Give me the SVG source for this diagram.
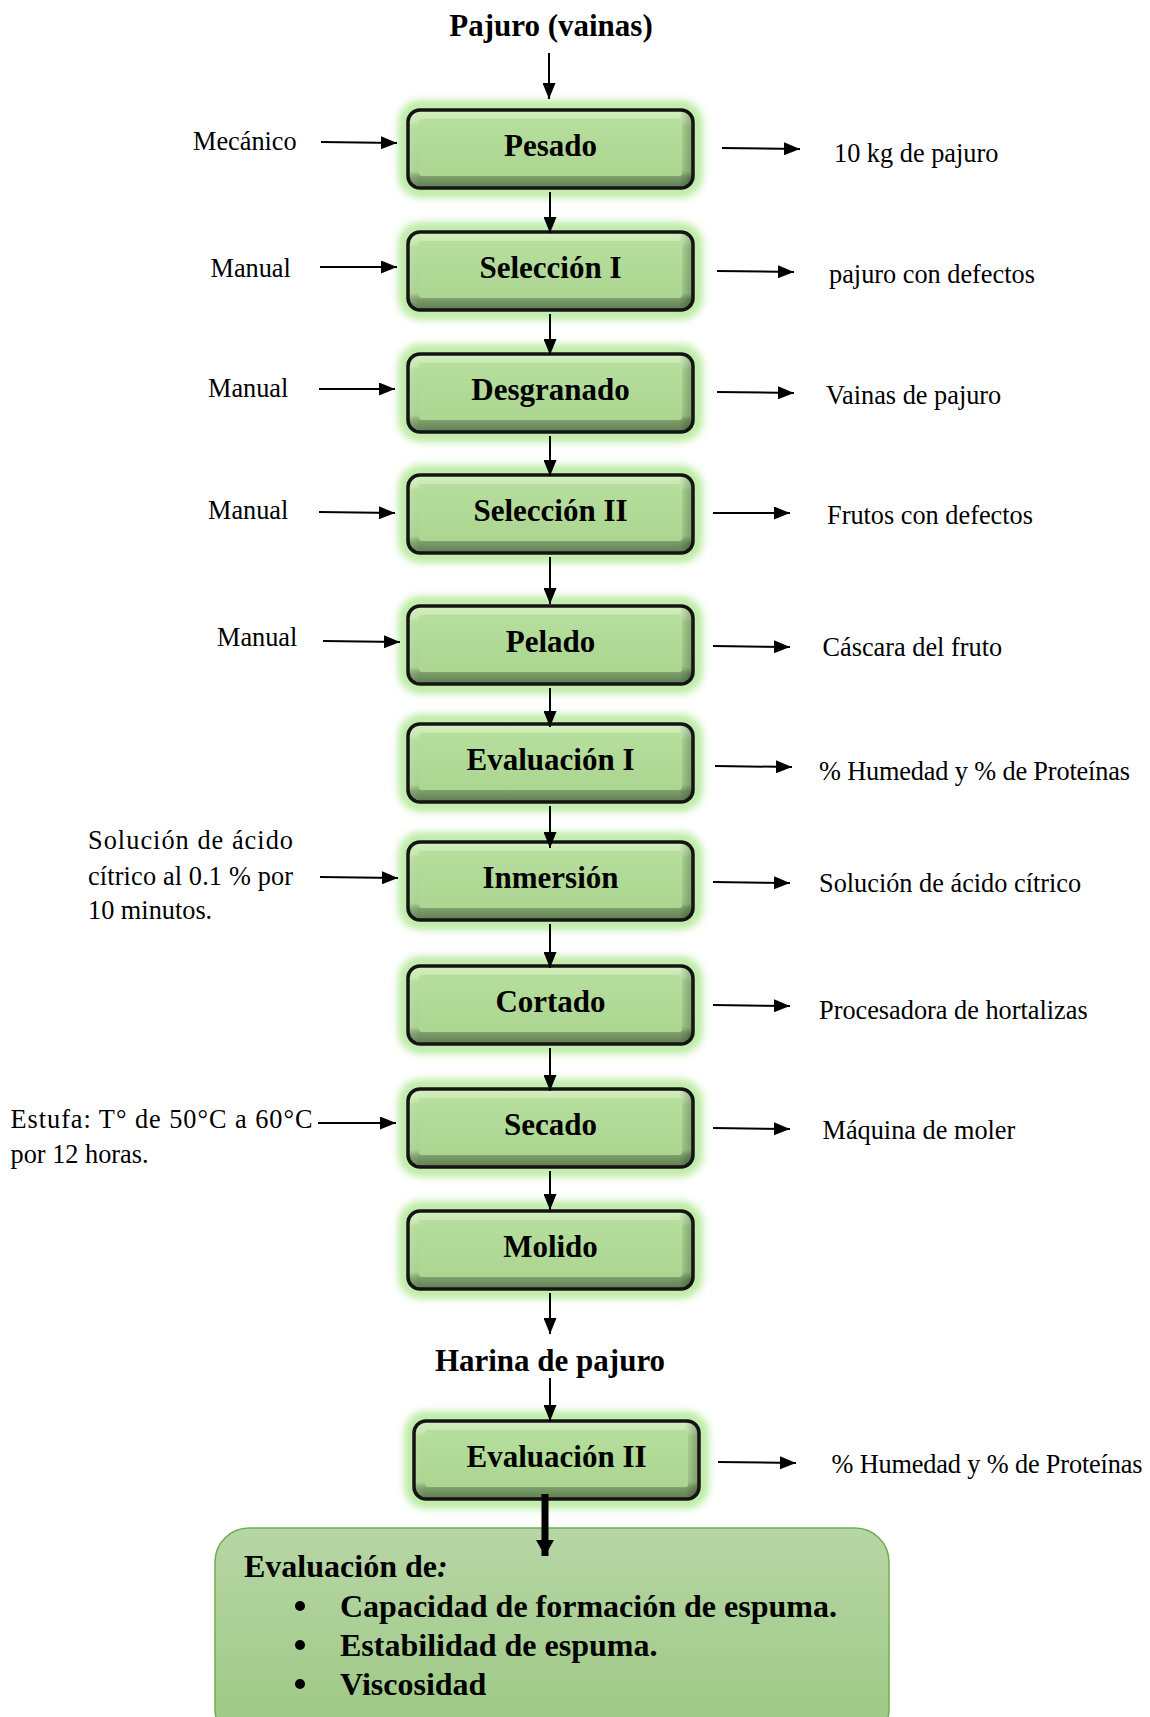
<svg xmlns="http://www.w3.org/2000/svg" width="1150" height="1717" viewBox="0 0 1150 1717">
<defs>
<linearGradient id="bev" x1="0" y1="0" x2="0" y2="1">
<stop offset="0" stop-color="#d6f0c2"/>
<stop offset="0.14" stop-color="#c6e8af"/>
<stop offset="0.2" stop-color="#b3dc99"/>
<stop offset="0.78" stop-color="#a9d28f"/>
<stop offset="0.86" stop-color="#7c9d6a"/>
<stop offset="1" stop-color="#5f7d52"/>
</linearGradient>
<linearGradient id="side" x1="0" y1="0" x2="1" y2="0">
<stop offset="0" stop-color="#ffffff" stop-opacity="0.12"/>
<stop offset="0.04" stop-color="#ffffff" stop-opacity="0"/>
<stop offset="0.95" stop-color="#000000" stop-opacity="0"/>
<stop offset="1" stop-color="#000000" stop-opacity="0.28"/>
</linearGradient>
<linearGradient id="face" x1="0" y1="0" x2="0" y2="1">
<stop offset="0" stop-color="#b6de9c"/>
<stop offset="1" stop-color="#acd592"/>
</linearGradient>
<linearGradient id="big" x1="0" y1="0" x2="0" y2="1">
<stop offset="0" stop-color="#b7d6a6"/>
<stop offset="1" stop-color="#9cc882"/>
</linearGradient>
<filter id="glow" x="-20%" y="-40%" width="140%" height="180%">
<feGaussianBlur stdDeviation="4"/>
</filter>
<marker id="ah" markerUnits="userSpaceOnUse" markerWidth="16" markerHeight="13" refX="16" refY="6.5" orient="auto">
<path d="M0,0 L16,6.5 L0,13 Z" fill="#000"/>
</marker>
<marker id="ahb" markerUnits="userSpaceOnUse" markerWidth="18" markerHeight="18" refX="16" refY="9" orient="auto">
<path d="M0,0 L16,9 L0,18 Z" fill="#000"/>
</marker>
<g id="boxshape">
<rect x="-4" y="-4" width="293" height="86" rx="16" fill="none" stroke="#aee792" stroke-width="10" filter="url(#glow)"/>
<rect x="0" y="0" width="285" height="78" rx="12" fill="url(#bev)"/>
<rect x="0" y="0" width="285" height="78" rx="12" fill="url(#side)"/>
<rect x="11" y="9" width="263" height="57" rx="3" fill="url(#face)"/>
<rect x="0" y="0" width="285" height="78" rx="12" fill="none" stroke="#141414" stroke-width="3.5"/>
</g>
</defs>
<style>
.nt{font-family:"Liberation Serif","Times New Roman",serif;font-weight:bold;font-size:31px;fill:#000;text-anchor:middle}
.lb{font-family:"Liberation Serif","Times New Roman",serif;font-size:26.3px;fill:#000}
.bt{font-family:"Liberation Serif","Times New Roman",serif;font-weight:bold;font-size:32px;fill:#000}
.ar{stroke:#000;stroke-width:2;fill:none;marker-end:url(#ah)}
</style>

<text class="nt" x="551" y="36">Pajuro (vainas)</text>
<text class="nt" x="550" y="1371">Harina de pajuro</text>

<g id="n-pesado"><use href="#boxshape" x="408" y="110"/><text class="nt" x="550.5" y="156">Pesado</text></g>
<g id="n-seleccion1"><use href="#boxshape" x="408" y="232"/><text class="nt" x="550.5" y="278">Selección I</text></g>
<g id="n-desgranado"><use href="#boxshape" x="408" y="354"/><text class="nt" x="550.5" y="400">Desgranado</text></g>
<g id="n-seleccion2"><use href="#boxshape" x="408" y="475"/><text class="nt" x="550.5" y="521">Selección II</text></g>
<g id="n-pelado"><use href="#boxshape" x="408" y="606"/><text class="nt" x="550.5" y="652">Pelado</text></g>
<g id="n-evaluacion1"><use href="#boxshape" x="408" y="724"/><text class="nt" x="550.5" y="770">Evaluación I</text></g>
<g id="n-inmersion"><use href="#boxshape" x="408" y="842"/><text class="nt" x="550.5" y="888">Inmersión</text></g>
<g id="n-cortado"><use href="#boxshape" x="408" y="966"/><text class="nt" x="550.5" y="1012">Cortado</text></g>
<g id="n-secado"><use href="#boxshape" x="408" y="1089"/><text class="nt" x="550.5" y="1135">Secado</text></g>
<g id="n-molido"><use href="#boxshape" x="408" y="1211"/><text class="nt" x="550.5" y="1257">Molido</text></g>
<g id="n-evaluacion2"><use href="#boxshape" x="414" y="1421"/><text class="nt" x="556.5" y="1467">Evaluación II</text></g>

<g id="n-final">
<rect x="215" y="1528" width="674" height="215" rx="34" fill="url(#big)" stroke="#6fae4c" stroke-width="1.5"/>
<text class="bt" x="244" y="1577">Evaluación de<tspan font-style="italic">:</tspan></text>
<circle cx="300" cy="1606" r="5"/>
<circle cx="300" cy="1645" r="5"/>
<circle cx="300" cy="1684" r="5"/>
<text class="bt" x="340" y="1617" font-size="33">Capacidad de formación de espuma.</text>
<text class="bt" x="340" y="1656" font-size="33">Estabilidad de espuma.</text>
<text class="bt" x="340" y="1695" font-size="33">Viscosidad</text>
</g>

<g id="left-labels">
<text class="lb" x="193" y="150">Mecánico</text>
<text class="lb" x="210.5" y="277">Manual</text>
<text class="lb" x="208" y="397">Manual</text>
<text class="lb" x="208" y="519">Manual</text>
<text class="lb" x="217" y="646">Manual</text>
<text class="lb" x="88" y="849" textLength="205" lengthAdjust="spacing">Solución de ácido</text>
<text class="lb" x="88" y="885" textLength="205" lengthAdjust="spacing">cítrico al 0.1 % por</text>
<text class="lb" x="88" y="919">10 minutos.</text>
<text class="lb" x="10.5" y="1128" textLength="302" lengthAdjust="spacing">Estufa: T° de 50°C a 60°C</text>
<text class="lb" x="10.5" y="1163">por 12 horas.</text>
</g>

<g id="right-labels">
<text class="lb" x="834" y="162">10 kg de pajuro</text>
<text class="lb" x="829" y="283">pajuro con defectos</text>
<text class="lb" x="826" y="404">Vainas de pajuro</text>
<text class="lb" x="827" y="523.5">Frutos con defectos</text>
<text class="lb" x="822.5" y="656">Cáscara del fruto</text>
<text class="lb" x="819" y="780" textLength="311" lengthAdjust="spacing">% Humedad y % de Proteínas</text>
<text class="lb" x="819" y="891.5">Solución de ácido cítrico</text>
<text class="lb" x="819" y="1018.5">Procesadora de hortalizas</text>
<text class="lb" x="822.5" y="1139">Máquina de moler</text>
<text class="lb" x="831.5" y="1473" textLength="311" lengthAdjust="spacing">% Humedad y % de Proteínas</text>
</g>

<g id="connectors">
<line class="ar" x1="549" y1="53" x2="549" y2="99"/>
<line class="ar" x1="550" y1="192" x2="550" y2="233"/>
<line class="ar" x1="550" y1="314" x2="550" y2="355"/>
<line class="ar" x1="550" y1="436" x2="550" y2="476"/>
<line class="ar" x1="550" y1="557" x2="550" y2="604"/>
<line class="ar" x1="550" y1="688" x2="550" y2="727"/>
<line class="ar" x1="550" y1="806" x2="550" y2="848"/>
<line class="ar" x1="550" y1="924" x2="550" y2="968"/>
<line class="ar" x1="550" y1="1048" x2="550" y2="1091"/>
<line class="ar" x1="550" y1="1171" x2="550" y2="1210"/>
<line class="ar" x1="550" y1="1293" x2="550" y2="1334"/>
<line class="ar" x1="550" y1="1378" x2="550" y2="1421"/>
<line x1="545" y1="1494" x2="545" y2="1556" stroke="#000" stroke-width="7" marker-end="url(#ahb)"/>

<line class="ar" x1="321" y1="142" x2="397" y2="143"/>
<line class="ar" x1="320" y1="267" x2="397" y2="267"/>
<line class="ar" x1="319" y1="389" x2="395" y2="389"/>
<line class="ar" x1="319" y1="512" x2="395" y2="513"/>
<line class="ar" x1="323" y1="641" x2="400" y2="642"/>
<line class="ar" x1="320" y1="877" x2="398" y2="878"/>
<line class="ar" x1="318" y1="1123" x2="396" y2="1123"/>

<line class="ar" x1="722" y1="148" x2="800" y2="149"/>
<line class="ar" x1="717" y1="271" x2="794" y2="272"/>
<line class="ar" x1="717" y1="392" x2="794" y2="393"/>
<line class="ar" x1="713" y1="513" x2="790" y2="513"/>
<line class="ar" x1="713" y1="646" x2="790" y2="647"/>
<line class="ar" x1="715" y1="766" x2="792" y2="767"/>
<line class="ar" x1="713" y1="882" x2="790" y2="883"/>
<line class="ar" x1="713" y1="1005" x2="790" y2="1006"/>
<line class="ar" x1="713" y1="1128" x2="790" y2="1129"/>
<line class="ar" x1="718" y1="1462" x2="796" y2="1463"/>
</g>
</svg>
